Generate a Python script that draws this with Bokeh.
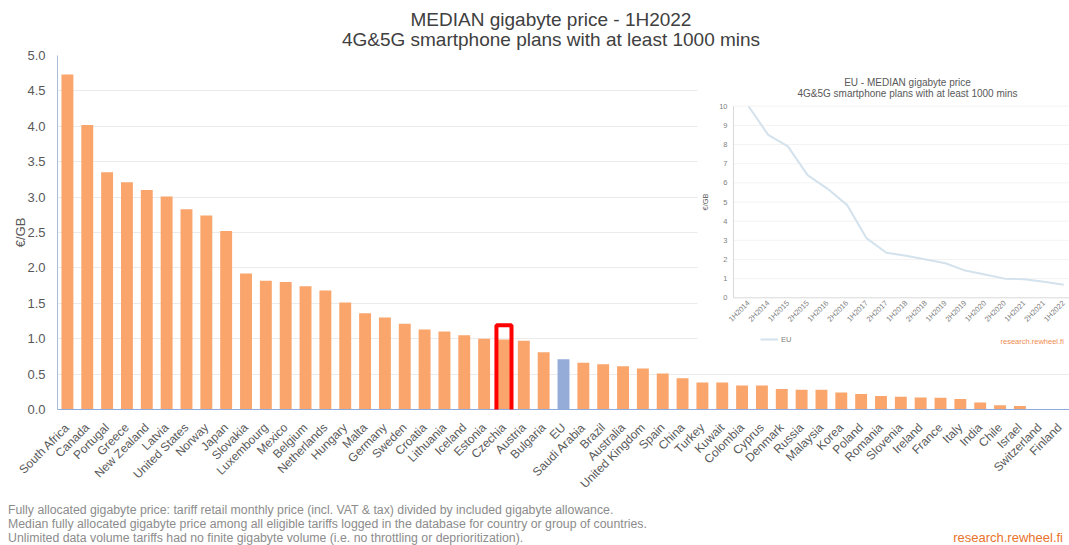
import math
import html
from bokeh.plotting import figure
from bokeh.layouts import column
from bokeh.models import (Range1d, ColumnDataSource, BoxAnnotation, FixedTicker, Div,
                          SingleIntervalTicker, NumeralTickFormatter, Legend, LegendItem)
from bokeh.core.properties import value
from bokeh.embed import file_html
from bokeh.resources import INLINE

# ---------------- data ----------------
countries = ["South Africa", "Canada", "Portugal", "Greece", "New Zealand", "Latvia",
             "United States", "Norway", "Japan", "Slovakia", "Luxembourg", "Mexico",
             "Belgium", "Netherlands", "Hungary", "Malta", "Germany", "Sweden", "Croatia",
             "Lithuania", "Iceland", "Estonia", "Czechia", "Austria", "Bulgaria", "EU",
             "Saudi Arabia", "Brazil", "Australia", "United Kingdom", "Spain", "China",
             "Turkey", "Kuwait", "Colombia", "Cyprus", "Denmark", "Russia", "Malaysia",
             "Korea", "Poland", "Romania", "Slovenia", "Ireland", "France", "Italy",
             "India", "Chile", "Israel", "Switzerland", "Finland"]
prices = [4.73, 4.02, 3.35, 3.21, 3.10, 3.01, 2.83, 2.74, 2.52, 1.92, 1.82, 1.80,
          1.74, 1.68, 1.51, 1.36, 1.30, 1.21, 1.13, 1.10, 1.05, 1.00, 0.99, 0.97,
          0.81, 0.71, 0.66, 0.64, 0.61, 0.58, 0.51, 0.44, 0.38, 0.38, 0.34, 0.34,
          0.29, 0.28, 0.28, 0.24, 0.22, 0.19, 0.18, 0.17, 0.165, 0.15, 0.10, 0.06,
          0.05, 0.0, 0.0]
aggregate_name = "EU"
highlight_country = "Czechia"

periods = ["1H2014", "2H2014", "1H2015", "2H2015", "1H2016", "2H2016", "1H2017",
           "2H2017", "1H2018", "2H2018", "1H2019", "2H2019", "1H2020", "2H2020",
           "1H2021", "2H2021", "1H2022"]
eu_series = [10.0, 8.5, 7.9, 6.4, 5.7, 4.85, 3.1, 2.35, 2.2, 2.0, 1.8, 1.42, 1.22,
             1.0, 0.97, 0.84, 0.68]
inset_yticks = list(range(0, 11))

main_title = ["MEDIAN gigabyte price - 1H2022",
              "4G&5G smartphone plans with at least 1000 mins"]
inset_title = ["EU - MEDIAN gigabyte price",
               "4G&5G smartphone plans with at least 1000 mins"]
footnotes = ["Fully allocated gigabyte price: tariff retail monthly price (incl. VAT & tax) divided by included gigabyte allowance.",
             "Median fully allocated gigabyte price among all eligible tariffs logged in the database for country or group of countries.",
             "Unlimited data volume tariffs had no finite gigabyte volume (i.e. no throttling or deprioritization)."]
credit = "research.rewheel.fi"

# ---------------- layout constants (page pixels) ----------------
FONT = "Liberation Sans"
W = 1069
HH, HM, HF = 47, 452, 46      # header, main figure, footer heights
Y0 = HH                        # page y of main figure top
FL, FR = 57, 1069              # frame left/right (page x)
FT_s, FB_s = 55, 409           # frame top/bottom (page y)
BAR = "#FAA56C"
BAR_EU = "#95ACD8"

n = len(countries)
xs = list(range(n))

# ---------------- header ----------------
header = Div(text=(
    f'<div style="position:relative;width:{W}px;height:{HH}px;'
    f'font-family:\'{FONT}\';font-size:19px;color:#404040;">'
    f'<div style="position:absolute;left:33px;width:1036px;top:10px;'
    f'text-align:center;line-height:20px;white-space:nowrap;">'
    + "<br>".join(html.escape(t) for t in main_title) +
    '</div></div>'), width=W, height=HH, margin=(0, 0, 0, 0))

# ---------------- main figure ----------------
p = figure(width=W, height=HM, x_range=Range1d(-0.5, n - 0.5),
           y_range=Range1d(0, 5.0), output_backend="svg", toolbar_location=None,
           min_border_left=FL, min_border_right=W - FR, min_border_top=FT_s - Y0,
           min_border_bottom=HM - (FB_s - Y0))
p.outline_line_color = None
p.background_fill_color = "white"
p.border_fill_color = None

# inset mapping via extra ranges (all positions in page pixels)
ix0, idx = 748.0, 19.7      # page x of first inset period, px per period
iy0, idy = 297.3, 19.16     # page y of value 0, px per unit
fw, fh = FR - FL, FB_s - FT_s
ix_start = -(ix0 - FL) / idx
ix_end = ix_start + fw / idx
iy_start = -(FB_s - iy0) / idy
iy_end = iy_start + fh / idy
p.extra_x_ranges = {"ix": Range1d(ix_start, ix_end)}
p.extra_y_ranges = {"iy": Range1d(iy_start, iy_end)}


def ixu(px):
    return (px - ix0) / idx


def iyu(py):
    return (iy0 - py) / idy


IR = dict(x_range_name="ix", y_range_name="iy")

# white inset panel covering main gridlines
p.quad(left=[ixu(697)], right=[ix_end], bottom=[iyu(350)], top=[iyu(62)],
       fill_color="white", line_color=None, **IR)

# main bars
colors = [BAR_EU if c == aggregate_name else BAR for c in countries]
src = ColumnDataSource(dict(x=xs, price=prices, color=colors))
p.vbar(x="x", top="price", width=0.6, source=src, fill_color="color",
       line_color=None)

# main axes styling
p.xgrid.grid_line_color = None
p.ygrid.grid_line_color = "#EBEBEB"
p.yaxis.ticker = SingleIntervalTicker(interval=0.5)
p.yaxis.formatter = NumeralTickFormatter(format="0.0")
p.yaxis.axis_line_color = "#A9BCD4"
p.yaxis.major_tick_line_color = None
p.yaxis.minor_tick_line_color = None
p.yaxis.major_label_text_font = FONT
p.yaxis.major_label_text_font_size = "13px"
p.yaxis.major_label_text_color = "#595959"
p.yaxis.major_label_standoff = 6
p.yaxis.axis_label = "€/GB"
p.yaxis.axis_label_text_font = FONT
p.yaxis.axis_label_text_font_style = "normal"
p.yaxis.axis_label_text_font_size = "13px"
p.yaxis.axis_label_text_color = "#595959"
p.yaxis.axis_label_standoff = -4

p.xaxis.ticker = FixedTicker(ticks=xs)
p.xaxis.major_label_overrides = {i: c for i, c in zip(xs, countries)}
p.xaxis.axis_line_color = "#8FAADC"
p.xaxis.major_tick_line_color = None
p.xaxis.minor_tick_line_color = None
p.xaxis.major_label_orientation = math.pi / 4
p.xaxis.major_label_text_font = FONT
p.xaxis.major_label_text_font_size = "12px"
p.xaxis.major_label_text_color = "#595959"
p.xaxis.major_label_standoff = 10

# highlight box
hi = countries.index(highlight_country)
p.add_layout(BoxAnnotation(left=hi - 0.38, right=hi + 0.38,
                           bottom=-0.10, top=prices[hi] + 0.2,
                           fill_alpha=0, line_color="#FF0000", line_alpha=1.0,
                           line_width=4))

# ---------------- inset chart ----------------
ax_left = ixu(733)
p.segment(x0=[ax_left] * (len(inset_yticks) - 1), x1=[ix_end] * (len(inset_yticks) - 1),
          y0=inset_yticks[1:], y1=inset_yticks[1:], line_color="#F3F3F3",
          line_width=1, **IR)
p.segment(x0=[ax_left], x1=[ax_left], y0=[0], y1=[inset_yticks[-1]],
          line_color="#D9D9D9", line_width=1, **IR)
p.segment(x0=[ax_left], x1=[ix_end], y0=[0], y1=[0], line_color="#D9D9D9",
          line_width=1, **IR)
eu_line = p.line(x=list(range(len(periods))), y=eu_series, line_color="#D3E2EC",
                 line_width=2, **IR)

p.text(x=[ixu(727)] * len(inset_yticks), y=inset_yticks,
       text=[str(v) for v in inset_yticks], text_align="right",
       text_baseline="middle", text_font=value(FONT), text_font_size="7.5px",
       text_color="#7F7F7F", **IR)
p.text(x=list(range(len(periods))), y=[iyu(iy0 + 4)] * len(periods), text=periods,
       angle=math.pi / 4, text_align="right", text_baseline="middle",
       text_font=value(FONT), text_font_size="7.5px", text_color="#7F7F7F", **IR)
p.text(x=[ixu(705)], y=[inset_yticks[-1] / 2], text=["€/GB"], angle=math.pi / 2,
       text_align="center", text_baseline="middle", text_font=value(FONT),
       text_font_size="7.5px", text_color="#595959", **IR)
p.text(x=[ixu(907)] * 2, y=[iyu(82), iyu(93)], text=inset_title, text_align="center",
       text_baseline="middle", text_font=value(FONT), text_font_size="10px",
       text_color="#595959", **IR)
p.text(x=[ixu(1000)], y=[iyu(341)], text=[credit], text_align="left",
       text_baseline="middle", text_font=value(FONT), text_font_size="7.5px",
       text_color="#F08C50", **IR)

legend = Legend(items=[LegendItem(label="EU", renderers=[eu_line])],
                location=(760 - FL, FB_s - 339 - 5), padding=0, margin=0, spacing=0,
                glyph_height=10, glyph_width=18, label_height=10, label_standoff=3,
                label_text_font=FONT, label_text_font_size="7.5px",
                label_text_color="#7F7F7F", border_line_color=None,
                background_fill_alpha=0)
p.add_layout(legend)

# ---------------- footer (footnotes & credit) ----------------
footer = Div(text=(
    f'<div style="position:relative;width:{W}px;height:{HF}px;font-family:\'{FONT}\';">'
    f'<div style="position:absolute;left:8px;top:4px;font-size:12.3px;line-height:14px;'
    f'color:#8C8C8C;white-space:nowrap;">'
    + "<br>".join(html.escape(t) for t in footnotes) +
    '</div>'
    f'<div style="position:absolute;right:6px;top:32px;font-size:13px;line-height:14px;'
    f'color:#E8732C;white-space:nowrap;">{html.escape(credit)}</div>'
    '</div>'), width=W, height=HF, margin=(0, 0, 0, 0))

layout = column(header, p, footer, spacing=0)
open("out.html", "w").write(file_html(layout, INLINE))
